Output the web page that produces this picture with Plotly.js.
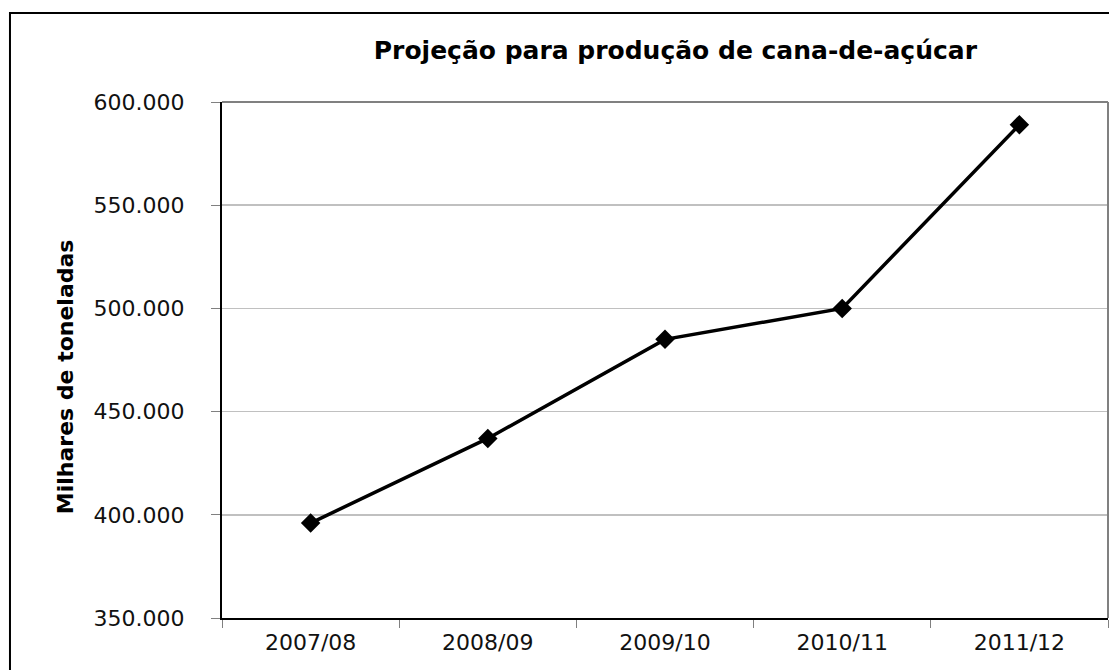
<!DOCTYPE html>
<html>
<head>
<meta charset="utf-8">
<script src="https://cdn.plot.ly/plotly-3.0.1.min.js"></script>
<style>html,body{margin:0;padding:0;background:#fff;}#chart{width:1109px;height:670px;}</style>
</head>
<body>
<div id="chart"></div>
<script>
const categories = ["2007/08", "2008/09", "2009/10", "2010/11", "2011/12"];
const production = [396000, 437000, 485000, 500000, 589000];
const yTickValues = [350000, 400000, 450000, 500000, 550000, 600000];
const chartTitle = "Projeção para produção de cana-de-açúcar";
const yTitle = "Milhares de toneladas";

const trace = {
  x: categories,
  y: production,
  type: "scatter",
  mode: "lines+markers",
  line: {color: "#000000", width: 3.5},
  marker: {symbol: "diamond", size: 15, color: "#000000"},
  cliponaxis: false,
  hoverinfo: "x+y"
};

const layout = {
  width: 1109,
  height: 670,
  margin: {l: 222, r: 1, t: 102, b: 52},
  paper_bgcolor: "#ffffff",
  plot_bgcolor: "#ffffff",
  separators: ",.",
  showlegend: false,
  font: {family: "DejaVu Sans, Arial, sans-serif", color: "#000000"},
  title: {
    text: chartTitle,
    font: {family: "DejaVu Sans, Arial, sans-serif", size: 25, weight: "bold", color: "#000000"},
    x: 0.609, xref: "container", xanchor: "center",
    y: 0.925, yref: "container", yanchor: "middle"
  },
  xaxis: {
    type: "category",
    tickson: "boundaries",
    ticks: "outside",
    ticklen: 8,
    tickcolor: "#808080",
    tickwidth: 1,
    showgrid: false,
    showline: true,
    linecolor: "#000000",
    linewidth: 2,
    mirror: false,
    ticklabelstandoff: 4,
    tickfont: {family: "DejaVu Sans, Arial, sans-serif", size: 22, color: "#111111"},
    range: [-0.5, 4.5],
    fixedrange: true
  },
  yaxis: {
    range: [350000, 600000],
    tickvals: yTickValues,
    tickformat: ",.0f",
    ticks: "outside",
    ticklen: 9,
    tickcolor: "#808080",
    tickwidth: 1,
    showgrid: true,
    gridcolor: "#c0c0c0",
    gridwidth: 1.5,
    zeroline: false,
    showline: true,
    linecolor: "#000000",
    linewidth: 2,
    ticklabelstandoff: 22,
    tickfont: {family: "DejaVu Sans, Arial, sans-serif", size: 22, color: "#111111"},
    fixedrange: true
  },
  shapes: [
    {type: "line", xref: "paper", yref: "paper", x0: 0, x1: 1, y0: 1, y1: 1, line: {color: "#808080", width: 2}},
    {type: "line", xref: "paper", yref: "paper", x0: 1, x1: 1, y0: 0, y1: 1, line: {color: "#808080", width: 2}},
    {type: "rect", xref: "paper", yref: "paper", x0: -0.2393, x1: 1.2, y0: -0.5, y1: 1.1725, line: {color: "#000000", width: 2}, layer: "below"}
  ],
  annotations: [
    {
      text: yTitle,
      xref: "paper", yref: "paper",
      x: -0.177, y: 0.467,
      xanchor: "center", yanchor: "middle",
      textangle: -90,
      showarrow: false,
      font: {family: "DejaVu Sans, Arial, sans-serif", size: 22, weight: "bold", color: "#000000"}
    }
  ]
};

Plotly.newPlot("chart", [trace], layout, {displayModeBar: false, staticPlot: true});
</script>
</body>
</html>
